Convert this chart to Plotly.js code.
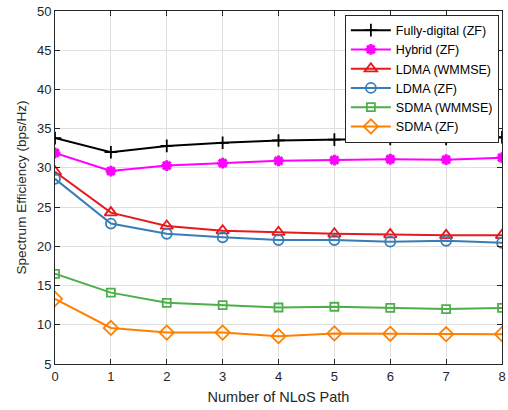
<!DOCTYPE html>
<html>
<head>
<meta charset="utf-8">
<script src="https://cdn.plot.ly/plotly-3.0.1.min.js"></script>
<style>html,body{margin:0;padding:0;background:#fff;}#chart{width:508px;height:410px;}</style>
</head>
<body>
<div id="chart"></div>
<script>
const nlosPaths = [0, 1, 2, 3, 4, 5, 6, 7, 8];
const seriesNames = ["Fully-digital (ZF)", "Hybrid (ZF)", "LDMA (WMMSE)", "LDMA (ZF)", "SDMA (WMMSE)", "SDMA (ZF)"];
const fullyDigitalZF = [33.8, 32.0, 32.8, 33.2, 33.5, 33.6, 33.7, 33.7, 33.9];
const hybridZF = [31.9, 29.6, 30.3, 30.6, 30.9, 31.0, 31.1, 31.05, 31.3];
const ldmaWMMSE = [29.5, 24.3, 22.6, 22.0, 21.8, 21.6, 21.5, 21.4, 21.4];
const ldmaZF = [28.6, 22.9, 21.6, 21.15, 20.8, 20.8, 20.6, 20.7, 20.45];
const sdmaWMMSE = [16.5, 14.1, 12.8, 12.5, 12.2, 12.3, 12.15, 12.0, 12.15];
const sdmaZF = [13.3, 9.6, 9.0, 9.0, 8.55, 8.9, 8.85, 8.8, 8.8];
const yTickVals = [5, 10, 15, 20, 25, 30, 35, 40, 45, 50];

const allSeries = [fullyDigitalZF, hybridZF, ldmaWMMSE, ldmaZF, sdmaWMMSE, sdmaZF];
const colors = ["#000000", "#ff00ff", "#e41a1c", "#377eb8", "#4daf4a", "#ff7f00"];
const symbols = ["cross-thin-open", "asterisk-open", "triangle-up-open", "circle-open", "square-open", "diamond-open"];
const sizes = [9, 9, 11, 10, 8, 11];

const traces = allSeries.map((ys, i) => ({
  x: nlosPaths,
  y: ys,
  name: seriesNames[i],
  type: "scatter",
  mode: "lines+markers",
  line: {color: colors[i], width: 2},
  marker: {symbol: symbols[i], size: sizes[i], color: colors[i], line: {color: colors[i], width: i === 1 ? 3 : 1.8}}
}));

const axisCommon = {
  showline: true, linecolor: "#262626", linewidth: 1, mirror: "ticks",
  ticks: "inside", ticklen: 5, tickcolor: "#262626",
  showgrid: true, gridcolor: "#e0e0e0", gridwidth: 1, zeroline: false,
  tickfont: {family: "Liberation Sans, Arial, sans-serif", size: 13, color: "#262626"}
};

const layout = {
  width: 508, height: 410,
  margin: {l: 55, r: 6, t: 11, b: 46},
  paper_bgcolor: "#ffffff", plot_bgcolor: "#ffffff",
  showlegend: true,
  xaxis: Object.assign({}, axisCommon, {
    range: [0, 8], tickvals: nlosPaths, ticktext: nlosPaths.map(String),
    title: {text: "Number of NLoS Path", font: {family: "Liberation Sans, Arial, sans-serif", size: 14.5, color: "#262626"}, standoff: 9}
  }),
  yaxis: Object.assign({}, axisCommon, {
    range: [5, 50], tickvals: yTickVals, ticktext: yTickVals.map(String),
    title: {text: "Spectrum Efficiency (bps/Hz)", font: {family: "Liberation Sans, Arial, sans-serif", size: 13.5, color: "#262626"}, standoff: 7}
  }),
  legend: {
    x: 0.993, y: 0.99, xanchor: "right", yanchor: "top",
    bgcolor: "#ffffff", bordercolor: "#262626", borderwidth: 1,
    font: {family: "Liberation Sans, Arial, sans-serif", size: 12.5, color: "#000000"},
    itemwidth: 40, tracegroupgap: 0
  }
};

Plotly.newPlot("chart", traces, layout, {displayModeBar: false, staticPlot: true});
</script>
</body>
</html>
